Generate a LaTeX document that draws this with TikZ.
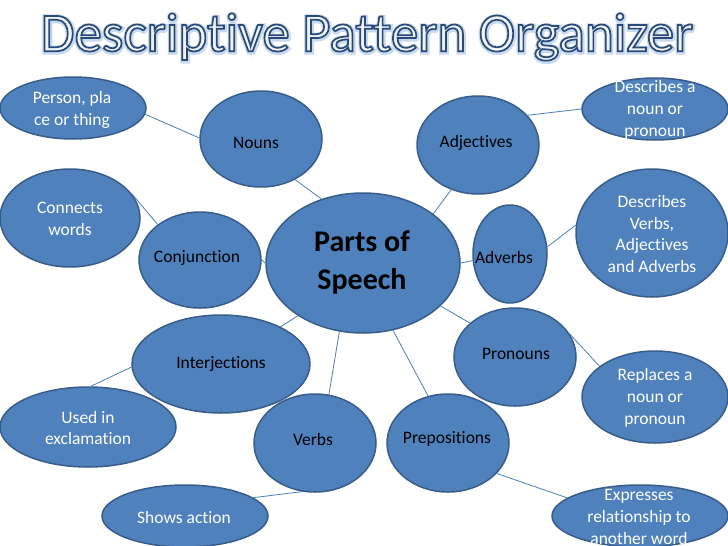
\documentclass[tikz,border=0pt]{standalone}
\usepackage{fontspec}
\setmainfont{Carlito}[Ligatures={NoCommon}]
\usetikzlibrary{shapes.geometric}
\definecolor{fillblue}{HTML}{4F81BD}
\definecolor{edgeblue}{HTML}{385D8A}
\definecolor{linkblue}{HTML}{4A7EBB}
\definecolor{titlefill}{HTML}{F0F3F7}
\begin{document}
\begin{tikzpicture}[x=1pt,y=-1pt,
  bub/.style={ellipse, draw=edgeblue, fill=fillblue, line width=1.5pt, inner sep=0pt},
  cat/.style={font=\fontsize{17.5}{21}\selectfont, text=black, align=center, inner sep=0pt},
  desc/.style={font=\fontsize{17.5}{21.8}\selectfont, text=white, align=center, inner sep=0pt},
  link/.style={draw=linkblue, line width=0.8pt},
  titletext/.style={inner sep=0pt, font=\fontsize{55}{60}\selectfont}]
\useasboundingbox (0,0) rectangle (728,546);
% title glow and title
\node[titletext, text=white] (title-glow) at (367.5,38)
  {\special{pdf:literal direct 1 Tr 5 w 0.78 0.85 0.93 RG}Descriptive Pattern Organizer\special{pdf:literal direct 0 Tr}};
\node[titletext, text=titlefill] (title) at (367,37)
  {\special{pdf:literal direct 2 Tr 1.7 w 0.16 0.29 0.47 RG}Descriptive Pattern Organizer\special{pdf:literal direct 0 Tr}};
% bubbles
\node[bub, minimum width=194pt, minimum height=140pt] (central) at (363,263) {};
\node[bub, minimum width=122pt, minimum height=96pt] (nouns) at (261,139) {};
\node[bub, minimum width=146pt, minimum height=62pt] (person) at (73,108) {};
\node[bub, minimum width=140pt, minimum height=98pt] (connects) at (70,218) {};
\node[bub, minimum width=122pt, minimum height=96pt] (conj) at (200,260) {};
\node[bub, minimum width=122pt, minimum height=98pt] (adj) at (478,145) {};
\node[bub, minimum width=146pt, minimum height=62pt] (descnoun) at (655,109) {};
\node[bub, minimum width=74pt, minimum height=98pt] (adv) at (510,254) {};
\node[bub, minimum width=152pt, minimum height=128pt] (descverb) at (652,233) {};
\node[bub, minimum width=178pt, minimum height=98pt] (interj) at (221,364) {};
\node[bub, minimum width=176pt, minimum height=80pt] (usedin) at (88,427) {};
\node[bub, minimum width=122pt, minimum height=98pt] (verbs) at (315,443) {};
\node[bub, minimum width=166pt, minimum height=62pt] (shows) at (185,516) {};
\node[bub, minimum width=122pt, minimum height=98pt] (pron) at (515,357) {};
\node[bub, minimum width=146pt, minimum height=92pt] (replaces) at (655,397) {};
\node[bub, minimum width=122pt, minimum height=98pt] (prep) at (448,443) {};
\node[bub, minimum width=176pt, minimum height=62pt] (express) at (640,516) {};
% connectors
\draw[link] (person.-5) -- (nouns.179);
\draw[link] (nouns.-50) -- (central.123);
\draw[link] (connects.21) -- (conj.140);
\draw[link] (conj.0) -- (central.180);
\draw[link] (adj.31) -- (descnoun.180);
\draw[link] (adj.239) -- (central.35.5);
\draw[link] (central.0) -- (adv.190);
\draw[link] (adv.11) -- (descverb.174);
\draw[link] (central.219) -- (interj.32);
\draw[link] (central.251) -- (verbs.74);
\draw[link] (interj.182) -- (usedin.86);
\draw[link] (verbs.255) -- (shows.15);
\draw[link] (central.-29.7) -- (pron.143.7);
\draw[link] (central.-66.8) -- (prep.113.5);
\draw[link] (pron.23.6) -- (replaces.151.8);
\draw[link] (prep.-32.3) -- (express.166.7);
% texts
\node[font=\fontsize{30}{38}\selectfont\bfseries, text=black, align=center, inner sep=0pt] (central-t) at (362,262) {Parts of\\Speech};
\node[cat] (nouns-t) at (256,143) {Nouns};
\node[desc] (person-t) at (72,110) {Person, pla\\ce or thing};
\node[desc] (connects-t) at (70,219) {Connects\\words};
\node[cat] (conj-t) at (197,258) {Conjunction};
\node[cat] (adj-t) at (476,143) {Adjectives};
\node[desc] (descnoun-t) at (655,110) {Describes a\\noun or\\pronoun};
\node[cat] (adv-t) at (504,257) {Adverbs};
\node[desc] (descverb-t) at (652,234) {Describes\\Verbs,\\Adjectives\\and Adverbs};
\node[cat] (interj-t) at (221,364) {Interjections};
\node[desc] (usedin-t) at (88,428) {Used in\\exclamation};
\node[cat] (verbs-t) at (313,439) {Verbs};
\node[desc] (shows-t) at (184,517) {Shows action};
\node[cat] (pron-t) at (516,354) {Pronouns};
\node[desc] (replaces-t) at (655,398) {Replaces a\\noun or\\pronoun};
\node[cat] (prep-t) at (447,439) {Prepositions};
\node[desc] (express-t) at (639,517) {Expresses\\relationship to\\another word};
\end{tikzpicture}
\end{document}
